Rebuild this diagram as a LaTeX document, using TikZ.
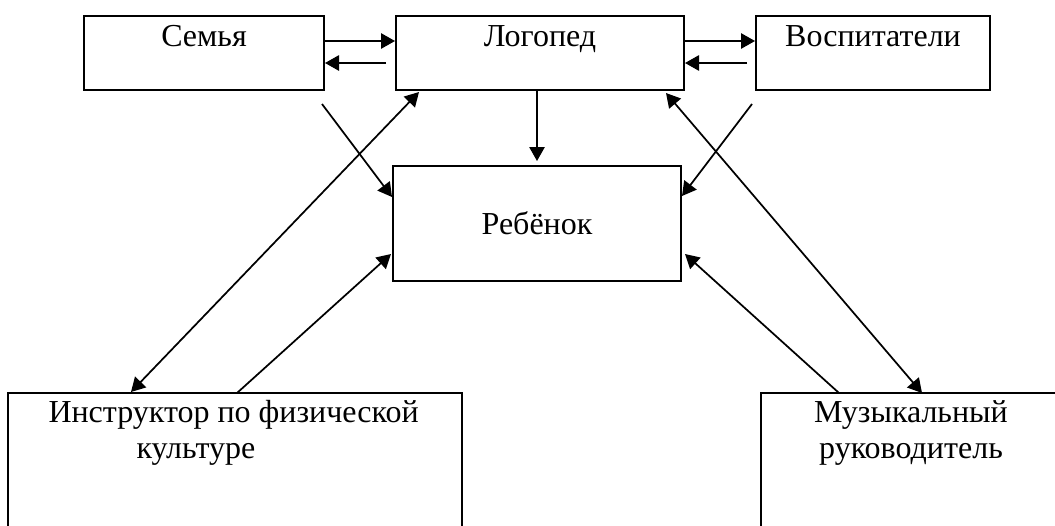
\documentclass[tikz,border=0pt]{standalone}
\usepackage{fontspec}
\setmainfont{Liberation Serif}
\usetikzlibrary{arrows.meta,calc}

\tikzset{every picture/.style={line width=0.75pt}}
\tikzset{
    box/.style={draw, line width=1.5pt, inner sep=0pt},
    txt/.style={inner sep=0pt, font=\fontsize{24}{27}\selectfont},
    arr/.style={line width=1.3pt, -{Triangle[length=10.5pt,width=11.5pt]}},
    darr/.style={line width=1.3pt, {Triangle[length=10.5pt,width=11.5pt]}-{Triangle[length=10.5pt,width=11.5pt]}}
}

\begin{document}
\begin{tikzpicture}[x=0.75pt,y=0.75pt,yscale=-1,xscale=1]
        \useasboundingbox (0,0) rectangle (1055,525);
        \clip (0,0) rectangle (1055,525);

        \node[box, minimum width=180pt, minimum height=55.5pt] (semya) at (204,53) {};
        \node[box, minimum width=216pt, minimum height=55.5pt] (logoped) at (540,53) {};
        \node[box, minimum width=175.5pt, minimum height=55.5pt] (vospit) at (873,53) {};
        \node[box, txt, minimum width=216pt, minimum height=86.25pt] (rebenok) at (537,223.5) {Ребёнок};
        \node[box, minimum width=340.5pt, minimum height=127.5pt] (instr) at (235,478) {};
        \node[box, minimum width=235.5pt, minimum height=127.5pt] (muz) at (918,478) {};

        \node[txt, anchor=base] (semyatxt) at ($(semya.north)+(0,31)$) {Семья};
        \node[txt, anchor=base] (logopedtxt) at ($(logoped.north)+(0,31)$) {Логопед};
        \node[txt, anchor=base] (vospittxt) at ($(vospit.north)+(0,31)$) {Воспитатели};
        \node[txt, anchor=north west, align=left] (instrtxt) at ($(instr.north west)+(41,8)$) {Инструктор по физической\\\hspace*{66pt}культуре};
        \node[txt, anchor=north, align=center] (muztxt) at ($(muz.north west)+(151,8)$) {Музыкальный\\руководитель};

        \draw[arr] ($(semya.east)+(0,-12)$) -- ($(logoped.west)+(0,-12)$);
        \draw[arr] ($(logoped.west)+(-9,10)$) -- ($(semya.east)+(0,10)$);
        \draw[arr] ($(logoped.east)+(0,-12)$) -- ($(vospit.west)+(0,-12)$);
        \draw[arr] ($(vospit.west)+(-8,10)$) -- ($(logoped.east)+(0,10)$);
        \draw[arr] (rebenok.north |- logoped.south) -- ($(rebenok.north)+(0,-4)$);
        \draw[arr] ($(semya.south east)+(-3,13)$) -- ($(rebenok.north west)+(0,32)$);
        \draw[arr] ($(vospit.south west)+(-3,13)$) -- ($(rebenok.north east)+(0,31)$);
        \draw[darr] ($(instr.north west)+(124,0)$) -- ($(logoped.south west)+(24,1)$);
        \draw[arr] ($(instr.north west)+(230,1)$) -- ($(rebenok.south west)+(-1,-28)$);
        \draw[darr] ($(muz.north west)+(162,1)$) -- ($(logoped.south east)+(-19,2)$);
        \draw[arr] ($(muz.north west)+(79,1)$) -- ($(rebenok.south east)+(3,-28)$);

    \end{tikzpicture}
\end{document}
